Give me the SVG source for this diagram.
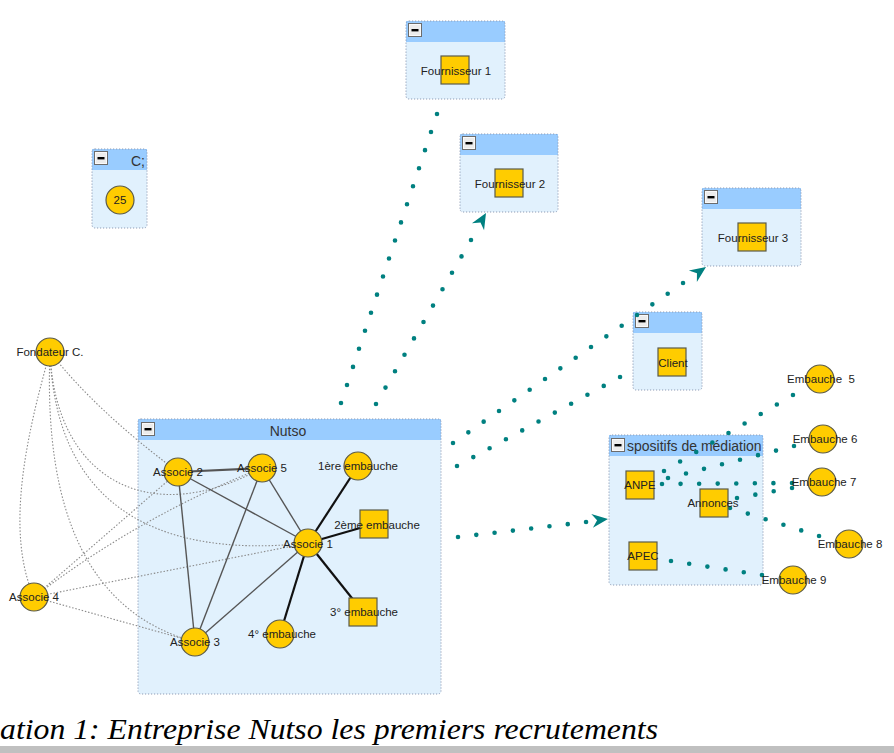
<svg xmlns="http://www.w3.org/2000/svg" xmlns:xlink="http://www.w3.org/1999/xlink" width="894" height="753" viewBox="0 0 894 753">
<style>
.body{fill:#e1f1fd;stroke:none}
.head{fill:#99ccff;stroke:none}
.frame{fill:none;stroke:#8f9cb5;stroke-width:1;stroke-dasharray:1.2 1.8}
.title{font-family:"Liberation Sans",Arial,sans-serif;font-size:14px;fill:#333}
.nd{fill:#ffcc00;stroke:#5a5a4a;stroke-width:1.2}
.lb{font-family:"Liberation Sans",Arial,sans-serif;font-size:11.5px;fill:#222;text-anchor:middle}
.teal{fill:none;stroke:#008080;stroke-width:4.6;stroke-linecap:round;stroke-dasharray:0 1}
.arrow{fill:#008080}
.gdot{fill:none;stroke:#8a8a8a;stroke-width:1.1;stroke-dasharray:1.5 1.8}
.edge{fill:none;stroke:#555;stroke-width:1.4}
.edgeb{fill:none;stroke:#111;stroke-width:2.2}
</style>
<defs>
<symbol id="minus" viewBox="0 0 14 14" width="14" height="14">
<rect x="0.5" y="0.5" width="13" height="13" fill="#d6d6d6" stroke="#6c6c6c"/>
<rect x="1.5" y="1.5" width="11" height="11" fill="#ececec" stroke="#fafafa"/>
<rect x="3.5" y="6" width="7" height="2.4" fill="#000"/>
</symbol>
</defs>
<rect width="894" height="753" fill="#fff"/>

<g id="box-fournisseur1">
<rect class="body" x="406" y="21" width="99" height="78" rx="3"/>
<rect class="head" x="406" y="21" width="99" height="21"/>
<rect class="frame" x="406" y="21" width="99" height="78" rx="3"/>
<use xlink:href="#minus" x="408" y="23"/>
</g>
<g id="box-fournisseur2">
<rect class="body" x="460" y="134" width="98" height="78" rx="3"/>
<rect class="head" x="460" y="134" width="98" height="21"/>
<rect class="frame" x="460" y="134" width="98" height="78" rx="3"/>
<use xlink:href="#minus" x="462" y="136"/>
</g>
<g id="box-c">
<rect class="body" x="92" y="149" width="55" height="79" rx="3"/>
<rect class="head" x="92" y="149" width="55" height="21"/>
<rect class="frame" x="92" y="149" width="55" height="79" rx="3"/>
<use xlink:href="#minus" x="94" y="151"/>
<text class="title" x="131" y="166">C;</text>
</g>
<g id="box-fournisseur3">
<rect class="body" x="702" y="188" width="99" height="78" rx="3"/>
<rect class="head" x="702" y="188" width="99" height="21"/>
<rect class="frame" x="702" y="188" width="99" height="78" rx="3"/>
<use xlink:href="#minus" x="704" y="190"/>
</g>
<g id="box-client">
<rect class="body" x="633" y="312" width="69" height="78" rx="3"/>
<rect class="head" x="633" y="312" width="69" height="21"/>
<rect class="frame" x="633" y="312" width="69" height="78" rx="3"/>
<use xlink:href="#minus" x="635" y="314"/>
</g>
<g id="box-nutso">
<rect class="body" x="138" y="419" width="303" height="275" rx="3"/>
<rect class="head" x="138" y="419" width="303" height="21"/>
<rect class="frame" x="138" y="419" width="303" height="275" rx="3"/>
<use xlink:href="#minus" x="141" y="422"/>
<text class="title" x="288" y="436" text-anchor="middle">Nutso</text>
</g>
<g id="box-dispositifs">
<rect class="body" x="609" y="435" width="154" height="150" rx="3"/>
<rect class="head" x="609" y="435" width="154" height="21"/>
<rect class="frame" x="609" y="435" width="154" height="150" rx="3"/>
<text class="title" x="627" y="451">spositifs de médiation</text>
<use xlink:href="#minus" x="611" y="438"/>
</g>

<g id="connectors">
<path class="gdot" d="M50,352 C28,430 4,530 34,597"/>
<path class="gdot" d="M50,352 Q40,600 195,642"/>
<path class="gdot" d="M50,352 C55,480 150,530 262,468"/>
<path class="gdot" d="M50,352 C55,500 150,560 308,543"/>
<path class="gdot" d="M50,352 Q95,410 178,472"/>
<path class="gdot" d="M34,597 L178,472"/>
<path class="gdot" d="M34,597 Q140,516 262,468"/>
<path class="gdot" d="M34,597 L308,543"/>
<path class="gdot" d="M34,597 L195,642"/>

<path class="edge" d="M178,472 L262,468" style="stroke-width:2.2"/>
<path class="edge" d="M178,472 L308,543"/>
<path class="edge" d="M178,472 L195,642"/>
<path class="edge" d="M262,468 L195,642"/>
<path class="edge" d="M262,468 L308,543"/>
<path class="edge" d="M195,642 L308,543"/>
<path class="edgeb" d="M308,543 L358,466"/>
<path class="edgeb" d="M308,543 L374,524"/>
<path class="edgeb" d="M308,543 L363,612"/>
<path class="edgeb" d="M308,543 L280,634"/>

<path class="teal" pathLength="16.2" d="M341,403 L438.2,110.4"/>
<path class="teal" pathLength="10.2" d="M376,404 L472.9,236.7"/>
<path class="arrow" d="M0,0 L-16,-7 L-11,0 L-16,7 Z" transform="translate(486,213) rotate(-60)"/>
<path class="teal" pathLength="15.2" d="M453,443 L686.1,280.9"/>
<path class="arrow" d="M0,0 L-16,-7 L-11,0 L-16,7 Z" transform="translate(706,267) rotate(-34.8)"/>
<path class="teal" pathLength="10.2" d="M457,466 L623.3,375.2"/>
<path class="teal" pathLength="7.2" d="M458,537 L589.7,521.6"/>
<path class="arrow" d="M0,0 L-16,-7 L-11,0 L-16,7 Z" transform="translate(608,519) rotate(-6.8)"/>
<path class="teal" pathLength="8.2" d="M664,471 L796.2,393.1"/>
<path class="teal" pathLength="7.2" d="M668,478 L797.6,445.1"/>
<path class="teal" pathLength="7.2" d="M662,484 L795.7,483"/>
<path class="teal" pathLength="3.2" d="M737,498 L795.7,487.3"/>
<path class="teal" pathLength="5.2" d="M730,508 L822.6,537.1"/>
<path class="teal" pathLength="5.2" d="M671,561 L765.6,575.6"/>
</g>

<g id="n-25"><circle class="nd" cx="120" cy="200" r="14"/><text class="lb" x="120" y="204">25</text></g>
<g id="n-fournisseur1"><rect class="nd" x="441" y="56" width="28" height="28"/><text class="lb" x="456" y="75">Fournisseur 1</text></g>
<g id="n-fournisseur2"><rect class="nd" x="495" y="169" width="28" height="28"/><text class="lb" x="510" y="188">Fournisseur 2</text></g>
<g id="n-fournisseur3"><rect class="nd" x="738" y="223" width="28" height="28"/><text class="lb" x="753" y="242">Fournisseur 3</text></g>
<g id="n-client"><rect class="nd" x="658" y="348" width="28" height="28"/><text class="lb" x="673" y="367">Client</text></g>

<g id="n-associe2"><circle class="nd" cx="178" cy="472" r="14"/><text class="lb" x="178" y="476">Associe 2</text></g>
<g id="n-associe5"><circle class="nd" cx="262" cy="468" r="14"/><text class="lb" x="262" y="472">Associe 5</text></g>
<g id="n-1ere"><circle class="nd" cx="358" cy="466" r="14"/><text class="lb" x="358" y="470">1ère embauche</text></g>
<g id="n-2eme"><rect class="nd" x="360" y="510" width="28" height="28"/><text class="lb" x="377" y="529">2ème embauche</text></g>
<g id="n-associe1"><circle class="nd" cx="308" cy="543" r="14"/><text class="lb" x="308" y="548">Associe 1</text></g>
<g id="n-3e"><rect class="nd" x="349" y="598" width="28" height="28"/><text class="lb" x="364" y="616">3° embauche</text></g>
<g id="n-4e"><circle class="nd" cx="280" cy="634" r="14"/><text class="lb" x="282" y="638">4° embauche</text></g>
<g id="n-associe3"><circle class="nd" cx="195" cy="642" r="14"/><text class="lb" x="195" y="646">Associe 3</text></g>
<g id="n-fondateur"><circle class="nd" cx="50" cy="352" r="14"/><text class="lb" x="50" y="356">Fondateur C.</text></g>
<g id="n-associe4"><circle class="nd" cx="34" cy="597" r="14"/><text class="lb" x="34" y="601">Associe 4</text></g>

<g id="n-anpe"><rect class="nd" x="626" y="471" width="28" height="28"/><text class="lb" x="640" y="489">ANPE</text></g>
<g id="n-annonces"><rect class="nd" x="700" y="489" width="28" height="28"/><text class="lb" x="713" y="507">Annonces</text></g>
<g id="n-apec"><rect class="nd" x="629" y="542" width="28" height="28"/><text class="lb" x="643" y="560">APEC</text></g>

<g id="n-emb5"><circle class="nd" cx="820" cy="379" r="14"/><text class="lb" x="821" y="383" xml:space="preserve" style="white-space:pre">Embauche  5</text></g>
<g id="n-emb6"><circle class="nd" cx="823" cy="439" r="14"/><text class="lb" x="825" y="443">Embauche 6</text></g>
<g id="n-emb7"><circle class="nd" cx="822" cy="482" r="14"/><text class="lb" x="824" y="486">Embauche 7</text></g>
<g id="n-emb8"><circle class="nd" cx="849" cy="544" r="14"/><text class="lb" x="850" y="548">Embauche 8</text></g>
<g id="n-emb9"><circle class="nd" cx="793" cy="580" r="14"/><text class="lb" x="794" y="584">Embauche 9</text></g>

<g id="caption">
<text x="0" y="739" font-family="Liberation Serif, 'Times New Roman', serif" font-style="italic" font-size="30" textLength="658" lengthAdjust="spacingAndGlyphs" fill="#000">ation 1: Entreprise Nutso les premiers recrutements</text>
<rect x="0" y="746" width="894" height="7" fill="#c0c0c0"/>
</g>
</svg>
